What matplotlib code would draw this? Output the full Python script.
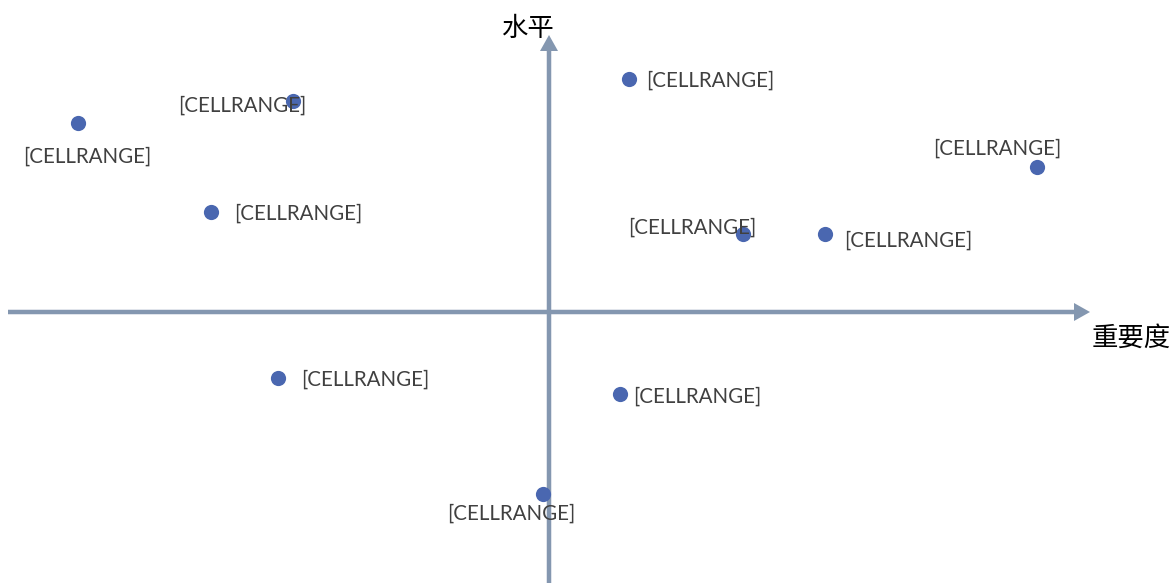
import matplotlib
matplotlib.use('Agg')
from matplotlib import pyplot as plt

## data ##
importance = [-4.71, -2.56, -3.38, 0.80, 4.88, 1.94, 2.76, -2.71, 0.71, -0.06]
level = [1.89, 2.11, 1.00, 2.33, 1.45, 0.78, 0.78, -0.66, -0.82, -1.82]
labels = ['[CELLRANGE]'] * len(importance)
x_title = '重要度'
y_title = '水平'

# label placement (pixel offsets from each point, and alignment)
offsets = [(9, -34, 'center'), (-51, -5, 'center'), (23, -2, 'left'), (17, -2, 'left'),
           (-40, 18, 'center'), (-51, 6, 'center'), (19, -7, 'left'), (23, -2, 'left'),
           (13, -3, 'left'), (-32, -20, 'center')]

axis_col = '#8497B0'
dot_col = '#4A67B0'

fig = plt.figure(figsize=(11.76, 5.83), dpi=100)
ax = fig.add_axes([0, 0, 1, 1])
ax.set_xlim(-5.49, 6.27)
ax.set_ylim(-2.71, 3.12)
ax.axis('off')

# axes drawn as arrows crossing at origin (1 unit = 100 px both ways)
ax.arrow(-5.41, 0, 10.82, 0, width=0.045, head_width=0.18, head_length=0.16,
         length_includes_head=True, lw=0, color=axis_col)
ax.arrow(0, -2.80, 0, 5.57, width=0.045, head_width=0.18, head_length=0.16,
         length_includes_head=True, lw=0, color=axis_col)

ax.scatter(importance, level, s=120, color=dot_col, zorder=3, linewidths=0)

for x, y, lab, (dx, dy, ha) in zip(importance, level, labels, offsets):
    ax.annotate(lab, (x, y), xytext=(dx, dy), textcoords='offset pixels',
                ha=ha, va='center', fontsize=14.8, color='#404040',
                family=['Lato', 'DejaVu Sans'], zorder=4)

cjk = ['Noto Sans CJK SC', 'DejaVu Sans']
ax.text(-0.22, 2.84, y_title, ha='center', va='center', fontsize=19, family=cjk)
ax.text(5.82, -0.26, x_title, ha='center', va='center', fontsize=19, family=cjk)

fig.savefig('out.png', dpi=100)
